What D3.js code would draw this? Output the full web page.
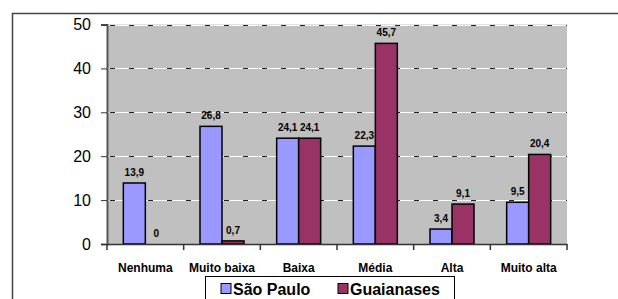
<!DOCTYPE html>
<html lang="pt">
<head>
  <meta charset="UTF-8">
  <title>São Paulo x Guaianases</title>
  <style>
    body { margin: 0; background: #fff; }
    svg { display: block; font-family: "Liberation Sans", Arial, sans-serif; }
  </style>
  <script src="https://d3js.org/d3.v7.min.js"></script>
</head>
<body>
  <div id="chart"></div>
  <script>
    // Dados
    var categorias = ["Nenhuma", "Muito baixa", "Baixa", "Média", "Alta", "Muito alta"];
    var saoPaulo = [13.9, 26.8, 24.1, 22.3, 3.4, 9.5];
    var guaianases = [0, 0.7, 24.1, 45.7, 9.1, 20.4];
    var series = ["São Paulo", "Guaianases"];
    var cores = ["#9999ff", "#993366"];
    var ticksY = [0, 10, 20, 30, 40, 50];

    var W = 618, H = 299;
    var plot = { left: 107, top: 24.5, right: 567, bottom: 244 };

    var svg = d3.select("#chart").append("svg")
      .attr("width", W)
      .attr("height", H);

    // moldura externa
    svg.append("rect")
      .attr("x", 12.5).attr("y", 13.5)
      .attr("width", W).attr("height", H)
      .attr("fill", "none")
      .attr("stroke", "#444")
      .attr("stroke-width", 1.5);

    var x0 = d3.scaleBand().domain(categorias).range([plot.left, plot.right]);
    var x1 = d3.scaleBand().domain(series).range([0, 44]);
    var y = d3.scaleLinear().domain([0, 50]).range([plot.bottom, plot.top]);

    // fundo da área do gráfico
    svg.append("rect")
      .attr("x", plot.left).attr("y", plot.top)
      .attr("width", plot.right - plot.left)
      .attr("height", plot.bottom - plot.top)
      .attr("fill", "#c0c0c0");

    // linhas de grade (brancas com traços escuros)
    var grade = svg.append("g");
    grade.selectAll("line.w")
      .data(ticksY.filter(function(d) { return d > 0; }))
      .enter().append("line")
      .attr("x1", plot.left).attr("x2", plot.right)
      .attr("y1", function(d) { return Math.round(y(d)) + 0.5; })
      .attr("y2", function(d) { return Math.round(y(d)) + 0.5; })
      .attr("stroke", "#fff");
    grade.selectAll("line.d")
      .data(ticksY.filter(function(d) { return d > 0; }))
      .enter().append("line")
      .attr("x1", plot.left + 3).attr("x2", plot.right)
      .attr("y1", function(d) { return Math.round(y(d)) + 0.5; })
      .attr("y2", function(d) { return Math.round(y(d)) + 0.5; })
      .attr("stroke", "#222")
      .attr("stroke-dasharray", "5,14");

    var dados = categorias.map(function(c, i) {
      return { cat: c, valores: [saoPaulo[i], guaianases[i]] };
    });

    var grupos = svg.selectAll("g.grupo")
      .data(dados)
      .enter().append("g")
      .attr("transform", function(d) {
        return "translate(" + (x0(d.cat) + (x0.bandwidth() - 44) / 2) + ",0)";
      });

    grupos.selectAll("rect")
      .data(function(d) { return d.valores.map(function(v, j) { return { s: series[j], v: v, j: j }; }); })
      .enter().append("rect")
      .attr("x", function(d) { return x1(d.s); })
      .attr("y", function(d) { return y(d.v); })
      .attr("width", x1.bandwidth())
      .attr("height", function(d) { return y(0) - y(d.v); })
      .attr("fill", function(d) { return cores[d.j]; })
      .attr("stroke", "#000")
      .attr("stroke-width", 1.5);

    grupos.selectAll("text")
      .data(function(d) { return d.valores.map(function(v, j) { return { s: series[j], v: v }; }); })
      .enter().append("text")
      .attr("x", function(d) { return x1(d.s) + x1.bandwidth() / 2; })
      .attr("y", function(d) { return y(d.v) - 7; })
      .attr("text-anchor", "middle")
      .attr("font-size", "10px")
      .attr("font-weight", "bold")
      .text(function(d) { return String(d.v).replace(".", ","); });

    // eixo Y
    var eixoY = d3.axisLeft(y).tickValues(ticksY).tickSize(6).tickPadding(10);
    var gy = svg.append("g")
      .attr("transform", "translate(" + plot.left + ",0)")
      .call(eixoY);
    gy.select(".domain").attr("stroke", "#555").attr("stroke-width", 2);
    gy.selectAll(".tick line").attr("stroke", "#333");
    gy.selectAll(".tick text")
      .attr("font-family", "'Liberation Sans', Arial, sans-serif")
      .attr("font-size", "16px")
      .attr("fill", "#000");

    // eixo X
    var eixoX = d3.axisBottom(x0).tickSize(0).tickPadding(19);
    var gx = svg.append("g")
      .attr("transform", "translate(0," + plot.bottom + ")")
      .call(eixoX);
    gx.select(".domain").attr("stroke", "#333").attr("stroke-width", 1.5);
    gx.selectAll(".tick text")
      .attr("font-family", "'Liberation Sans', Arial, sans-serif")
      .attr("font-size", "12px")
      .attr("font-weight", "bold")
      .attr("fill", "#000");

    // marcas entre categorias
    var limites = categorias.map(function(c) { return x0(c); }).concat([plot.right]);
    svg.append("g").selectAll("line")
      .data(limites)
      .enter().append("line")
      .attr("x1", function(d) { return d; }).attr("x2", function(d) { return d; })
      .attr("y1", plot.bottom).attr("y2", plot.bottom + 6)
      .attr("stroke", "#333")
      .attr("stroke-width", 1.5);

    // legenda
    var leg = svg.append("g").attr("transform", "translate(205.5,276.5)");
    leg.append("rect")
      .attr("width", 249).attr("height", 40)
      .attr("fill", "#fff")
      .attr("stroke", "#000");
    var itens = leg.selectAll("g.item")
      .data(series)
      .enter().append("g")
      .attr("transform", function(d, i) { return "translate(" + [15.5, 132.5][i] + ",0)"; });
    itens.append("rect")
      .attr("x", 0).attr("y", 7)
      .attr("width", 10).attr("height", 10)
      .attr("fill", function(d, i) { return cores[i]; })
      .attr("stroke", "#000");
    itens.append("text")
      .attr("x", 12).attr("y", 18)
      .attr("font-size", "16px")
      .attr("font-weight", "bold")
      .text(function(d) { return d; });
  </script>
</body>
</html>
